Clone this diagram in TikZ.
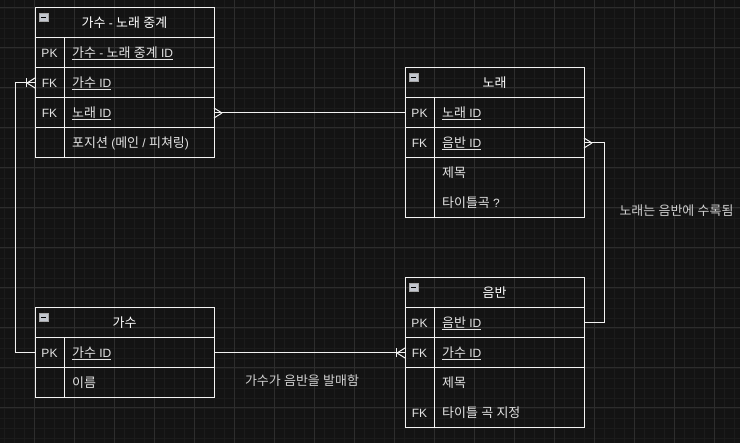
\documentclass[tikz,border=0pt]{standalone}
\usepackage{fontspec}
\setmainfont{Liberation Sans}
\newfontfamily\krfont[Scale=1.08]{Noto Sans CJK KR}
\newcommand\hg[1]{{\krfont #1}}
\definecolor{bg}{HTML}{131313}
\definecolor{gmin}{HTML}{1B1B1B}
\definecolor{gmaj}{HTML}{2D2D2D}
\definecolor{ln}{HTML}{F2F2F2}
\definecolor{tx}{HTML}{E4E4E4}
\definecolor{lblc}{HTML}{CFCFCF}
\definecolor{minusfill}{HTML}{C4C8D0}
\newcommand\fs{\fontsize{12}{14}\selectfont}
\newcommand\ulx[1]{\setbox0\hbox{#1}\rlap{\rule[-2.2pt]{\wd0}{0.9pt}}\box0}
\tikzset{
  rowbox/.style={draw=ln, line width=1pt, minimum width=179pt, minimum height=30pt, anchor=north west, inner sep=0pt, outer sep=0pt},
  hdrtext/.style={text=white, font=\fs, inner sep=0pt},
  keytext/.style={text=tx, font=\fs, inner sep=0pt},
  attrtext/.style={text=tx, font=\fs, anchor=west, inner sep=0pt},
  conn/.style={draw=ln, line width=1pt},
  reltext/.style={text=lblc, font=\fs, inner sep=0pt},
  minusbox/.style={draw=gray!70, fill=minusfill, line width=0.6pt, minimum size=8.5pt, inner sep=0pt, anchor=north west},
}
\newcommand\minusicon[2]{%
  \node[minusbox] (#1) at (#2) {};
  \draw[black, line width=1.6pt] ([xshift=-2.2pt]#1.center) -- ([xshift=2.2pt]#1.center);
}
\begin{document}
\begin{tikzpicture}[x=1pt,y=-1pt]
\useasboundingbox (0,0) rectangle (740,443);
\fill[bg] (0,0) rectangle (740,443);
% grid
\foreach \gx in {4,14,...,734} \draw[gmin, line width=0.8pt] (\gx,0) -- (\gx,443);
\foreach \gy in {8,18,...,438} \draw[gmin, line width=0.8pt] (0,\gy) -- (740,\gy);
\foreach \gx in {34,74,...,714} \draw[gmaj, line width=1pt] (\gx,0) -- (\gx,443);
\foreach \gy in {8,48,...,408} \draw[gmaj, line width=1pt] (0,\gy) -- (740,\gy);

% ---------- Table 1: 가수 - 노래 중계
\node[rowbox] (t1h) at (35,8) {};
\node[rowbox] (t1r1) at (35,38) {};
\node[rowbox] (t1r2) at (35,68) {};
\node[rowbox] (t1r3) at (35,98) {};
\node[rowbox] (t1r4) at (35,128) {};
\draw[conn] ([xshift=29pt]t1r1.north west) -- ([xshift=29pt]t1r4.south west);
\minusicon{t1m}{39,13}
\node[hdrtext] (t1ht) at (124.5,23) {\hg{가수} - \hg{노래} \hg{중계}};
\node[keytext] (t1k1) at (49.5,53) {PK};
\node[keytext] (t1k2) at (49.5,83) {FK};
\node[keytext] (t1k3) at (49.5,113) {FK};
\node[attrtext] (t1a1) at (72,53) {\ulx{\hg{가수} - \hg{노래} \hg{중계} ID}};
\node[attrtext] (t1a2) at (72,83) {\ulx{\hg{가수} ID}};
\node[attrtext] (t1a3) at (72,113) {\ulx{\hg{노래} ID}};
\node[attrtext] (t1a4) at (72,143) {\hg{포지션} (\hg{메인} / \hg{피쳐링})};

% ---------- Table 2: 노래
\node[rowbox] (t2h) at (405,68) {};
\node[rowbox] (t2r1) at (405,98) {};
\node[rowbox] (t2r2) at (405,128) {};
\node[rowbox, minimum height=60pt] (t2r3) at (405,158) {};
\draw[conn] ([xshift=29pt]t2r1.north west) -- ([xshift=29pt]t2r3.south west);
\minusicon{t2m}{409,73}
\node[hdrtext] (t2ht) at (494.5,83) {\hg{노래}};
\node[keytext] (t2k1) at (419.5,113) {PK};
\node[keytext] (t2k2) at (419.5,143) {FK};
\node[attrtext] (t2a1) at (442,113) {\ulx{\hg{노래} ID}};
\node[attrtext] (t2a2) at (442,143) {\ulx{\hg{음반} ID}};
\node[attrtext] (t2a3) at (442,173) {\hg{제목}};
\node[attrtext] (t2a4) at (442,203) {\hg{타이틀곡} ?};

% ---------- Table 3: 음반
\node[rowbox] (t3h) at (405,278) {};
\node[rowbox] (t3r1) at (405,308) {};
\node[rowbox] (t3r2) at (405,338) {};
\node[rowbox, minimum height=60pt] (t3r3) at (405,368) {};
\draw[conn] ([xshift=29pt]t3r1.north west) -- ([xshift=29pt]t3r3.south west);
\minusicon{t3m}{409,283}
\node[hdrtext] (t3ht) at (494.5,293) {\hg{음반}};
\node[keytext] (t3k1) at (419.5,323) {PK};
\node[keytext] (t3k2) at (419.5,353) {FK};
\node[keytext] (t3k3) at (419.5,413) {FK};
\node[attrtext] (t3a1) at (442,323) {\ulx{\hg{음반} ID}};
\node[attrtext] (t3a2) at (442,353) {\ulx{\hg{가수} ID}};
\node[attrtext] (t3a3) at (442,383) {\hg{제목}};
\node[attrtext] (t3a4) at (442,413) {\hg{타이틀} \hg{곡} \hg{지정}};

% ---------- Table 4: 가수
\node[rowbox] (t4h) at (35,308) {};
\node[rowbox] (t4r1) at (35,338) {};
\node[rowbox] (t4r2) at (35,368) {};
\draw[conn] ([xshift=29pt]t4r1.north west) -- ([xshift=29pt]t4r2.south west);
\minusicon{t4m}{39,313}
\node[hdrtext] (t4ht) at (124.5,323) {\hg{가수}};
\node[keytext] (t4k1) at (49.5,353) {PK};
\node[attrtext] (t4a1) at (72,353) {\ulx{\hg{가수} ID}};
\node[attrtext] (t4a2) at (72,383) {\hg{이름}};

% ---------- Connectors
% 가수 PK -> 가수-노래 중계 FK (one to many)
\draw[conn] (t4r1.west) -- ++(-20,0) |- (t1r2.west);
\draw[conn] ([xshift=-9pt,yshift=-4.5pt]t1r2.west) -- ([xshift=-9pt,yshift=4.5pt]t1r2.west);
\draw[conn] ([xshift=-8pt]t1r2.west) -- ([yshift=-5pt]t1r2.west);
\draw[conn] ([xshift=-8pt]t1r2.west) -- ([yshift=5pt]t1r2.west);

% 노래 PK -> 가수-노래 중계 FK (many)
\draw[conn] (t2r1.west) -- (t1r3.east);
\draw[conn] ([xshift=8pt]t1r3.east) -- ([yshift=-5pt]t1r3.east);
\draw[conn] ([xshift=8pt]t1r3.east) -- ([yshift=5pt]t1r3.east);

% 음반 PK -> 노래 FK (many)
\draw[conn] (t3r1.east) -- ++(20,0) |- (t2r2.east);
\draw[conn] ([xshift=8pt]t2r2.east) -- ([yshift=-5pt]t2r2.east);
\draw[conn] ([xshift=8pt]t2r2.east) -- ([yshift=5pt]t2r2.east);

% 가수 PK -> 음반 FK (one to many)
\draw[conn] (t4r1.east) -- (t3r2.west);
\draw[conn] ([xshift=-9pt,yshift=-4.5pt]t3r2.west) -- ([xshift=-9pt,yshift=4.5pt]t3r2.west);
\draw[conn] ([xshift=-8pt]t3r2.west) -- ([yshift=-5pt]t3r2.west);
\draw[conn] ([xshift=-8pt]t3r2.west) -- ([yshift=5pt]t3r2.west);

% ---------- Relation labels
\node[reltext] (l1) at (676.5,211) {\hg{노래는} \hg{음반에} \hg{수록됨}};
\node[reltext] (l2) at (302,381) {\hg{가수가} \hg{음반을} \hg{발매함}};
\end{tikzpicture}
\end{document}
